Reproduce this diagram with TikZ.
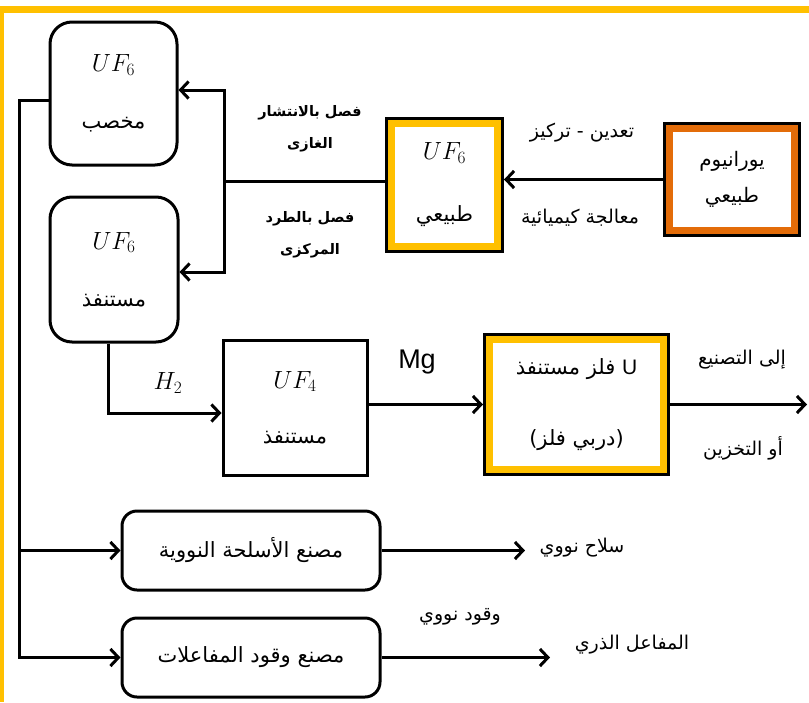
\documentclass[tikz,border=0pt]{standalone}
\usepackage{fontspec}
\newfontfamily\arabicfont[Script=Arabic]{DejaVu Sans}
\newfontfamily\latinfont{Liberation Sans}
\TeXXeTstate=1
\usetikzlibrary{arrows.meta,positioning}
\definecolor{goldc}{HTML}{FFC000}
\definecolor{orangec}{HTML}{E36C09}
\newcommand{\artext}[1]{\beginR#1\endR}
\newcommand{\formula}[1]{{\fontsize{24}{28}\selectfont$#1$}}
\tikzset{
 roundbox/.style={draw,line width=3pt,rounded corners=22pt,align=center,
             font=\fontsize{21}{25}\selectfont\arabicfont},
 plainbox/.style={draw,line width=3pt,align=center,
             font=\fontsize{21}{25}\selectfont\arabicfont},
 framebox/.style={fill=white,draw=#1,line width=7pt,outer sep=6.5pt,
             preaction={draw=black,line width=13pt},align=center,
             font=\fontsize{21}{25}\selectfont\arabicfont},
 arrow/.style={-{Straight Barb[length=8pt,width=17pt]},line width=3pt},
 line/.style={line width=3pt},
 lbl/.style={font=\fontsize{19}{23}\selectfont\arabicfont,align=center},
 boldlbl/.style={font=\fontsize{14.5}{17}\selectfont\arabicfont\bfseries,align=center},
 latinlbl/.style={font=\fontsize{27}{30}\selectfont\latinfont}
}
\begin{document}
\begin{tikzpicture}[x=1pt,y=-1pt]
\useasboundingbox (0,0) rectangle (809,702);
% frame
\fill[goldc] (0,6) rectangle (809,13);
\fill[goldc] (0,6) rectangle (4,702);

% boxes
\node[roundbox,minimum width=127pt,minimum height=143pt] (enriched) at (113.5,93.5)
  {\formula{UF_6}\\[32pt]\artext{مخصب}};
\node[roundbox,minimum width=128pt,minimum height=145pt] (depleted) at (114,269.5)
  {\formula{UF_6}\\[32pt]\artext{مستنفذ}};
\node[framebox=goldc,minimum width=106pt,minimum height=123pt] (natural) at (444.5,185)
  {\formula{UF_6}\\[37pt]\artext{طبيعي}};
\node[framebox=orangec,minimum width=125pt,minimum height=102pt,
      font=\fontsize{20}{24}\selectfont\arabicfont] (ore) at (732,179.5)
  {\artext{يورانيوم}\\[12pt]\artext{طبيعي}};
\node[plainbox,minimum width=144pt,minimum height=135pt] (tetra) at (295,407.5)
  {\formula{UF_4}\\[30pt]\artext{مستنفذ}};
\node[framebox=goldc,minimum width=174pt,minimum height=130pt] (metal) at (576.5,404.5)
  {\artext{{\latinfont U} فلز مستنفذ}\\[46pt]\artext{(دربي فلز)}};
\node[roundbox,rounded corners=15pt,minimum width=258pt,minimum height=79pt] (weapons) at (251,550.5)
  {\artext{مصنع الأسلحة النووية}};
\node[roundbox,rounded corners=15pt,minimum width=258pt,minimum height=79pt] (fuel) at (251,657.5)
  {\artext{مصنع وقود المفاعلات}};

% connectors
\coordinate (busTop) at (19,100);
\coordinate (split) at (224,181);
\coordinate (splitUp) at (224,90);
\coordinate (splitDown) at (224,272);
\coordinate (h2Bend) at (108,413);
\coordinate (storeEnd) at (807,404.5);
\coordinate (weaponsEnd) at (525,550.5);
\coordinate (reactorEnd) at (550,657.5);

\draw[arrow] (ore.west) -- (ore.west -| natural.east);
\draw[line] (natural.west |- split) -- (split);
\draw[arrow] (split) |- (splitUp -| enriched.east);
\draw[arrow] (split) |- (splitDown -| depleted.east);
\draw[arrow] (enriched.west |- busTop) -- (busTop) |- (fuel.west);
\draw[arrow] (busTop |- weapons.west) -- (weapons.west);
\draw[arrow] (h2Bend |- depleted.south) -- (h2Bend) -- (h2Bend -| tetra.west);
\draw[arrow] (metal.west -| tetra.east) -- (metal.west);
\draw[arrow] (metal.east) -- (storeEnd);
\draw[arrow] (weapons.east) -- (weaponsEnd);
\draw[arrow] (fuel.east) -- (reactorEnd);

% labels
\node[boldlbl] (gasLbl) at (310,128.5) {\artext{فصل بالانتشار}\\[15pt]\artext{الغازى}};
\node[boldlbl] (centLbl) at (310,234.5) {\artext{فصل بالطرد}\\[15pt]\artext{المركزى}};
\node[lbl] (mineLbl) at (582,133) {\artext{تعدين - تركيز}};
\node[lbl] (chemLbl) at (580,218) {\artext{معالجة كيميائية}};
\node (h2Lbl) at (168,383) {\formula{H_2}};
\node[latinlbl] (mgLbl) at (417,362) {Mg};
\node[lbl] (fabLbl) at (742,360) {\artext{إلى التصنيع}};
\node[lbl] (storeLbl) at (743,448) {\artext{أو التخزين}};
\node[lbl] (weaponLbl) at (582,548) {\artext{سلاح نووي}};
\node[lbl] (fuelLbl) at (460,617) {\artext{وقود نووي}};
\node[lbl] (reactorLbl) at (632,645) {\artext{المفاعل الذري}};
\end{tikzpicture}
\end{document}
